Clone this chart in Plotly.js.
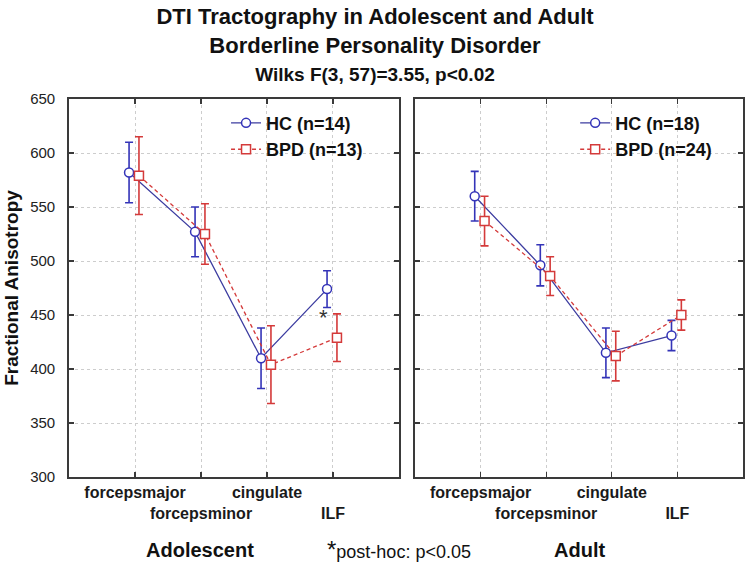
<!DOCTYPE html>
<html>
<head>
<meta charset="utf-8">
<script src="https://cdn.plot.ly/plotly-3.0.1.min.js"></script>
<style>html,body{margin:0;padding:0;background:#fff;}#chart{width:750px;height:565px;}</style>
</head>
<body>
<div id="chart"></div>
<script>
// ---- data ----
const tracts = ['forcepsmajor', 'forcepsminor', 'cingulate', 'ILF'];
const tickLabels = ['forcepsmajor', '<br>forcepsminor', 'cingulate', '<br>ILF'];
const yTicks = [300, 350, 400, 450, 500, 550, 600, 650];

const adolHC = [582, 527, 410, 474];
const adolHCerr = [28, 23, 28, 17];
const adolBPD = [579, 525, 404, 429];
const adolBPDerr = [36, 28, 36, 22];

const adultHC = [560, 496, 415, 431];
const adultHCerr = [23, 19, 23, 14];
const adultBPD = [537, 486, 412, 450];
const adultBPDerr = [23, 18, 23, 14];

const legendNames = {
  adolHC: 'HC (n=14)', adolBPD: 'BPD (n=13)',
  adultHC: 'HC (n=18)', adultBPD: 'BPD (n=24)'
};

// ---- styling ----
const FONT = 'Liberation Sans, Arial, sans-serif';
const BLUE = '#3434b8';
const BLUE_LINE = '#3c3ca0';
const RED = '#d43a3a';
const AXIS = '#3a3a3a';
const HC_OFF = -0.09, BPD_OFF = 0.06;
const idx = tracts.map((_, i) => i);

function hcTrace(y, err, name, xa, ya, leg) {
  return {
    x: idx.map(i => i + HC_OFF), y: y, name: name, type: 'scatter', mode: 'lines+markers',
    xaxis: xa, yaxis: ya, legend: leg,
    line: {color: BLUE_LINE, width: 1.3},
    marker: {symbol: 'circle', size: 9, color: '#ffffff', line: {color: BLUE, width: 1.5}},
    error_y: {type: 'data', array: err, visible: true, color: BLUE, thickness: 1.6, width: 4},
    hoverinfo: 'skip'
  };
}
function bpdTrace(y, err, name, xa, ya, leg) {
  return {
    x: idx.map(i => i + BPD_OFF), y: y, name: name, type: 'scatter', mode: 'lines+markers',
    xaxis: xa, yaxis: ya, legend: leg,
    line: {color: RED, width: 1.3, dash: '4px,3px'},
    marker: {symbol: 'square', size: 9, color: '#ffffff', line: {color: RED, width: 1.5}},
    error_y: {type: 'data', array: err, visible: true, color: RED, thickness: 1.6, width: 4},
    hoverinfo: 'skip'
  };
}

const data = [
  hcTrace(adolHC, adolHCerr, legendNames.adolHC, 'x', 'y', 'legend'),
  bpdTrace(adolBPD, adolBPDerr, legendNames.adolBPD, 'x', 'y', 'legend'),
  hcTrace(adultHC, adultHCerr, legendNames.adultHC, 'x2', 'y2', 'legend2'),
  bpdTrace(adultBPD, adultBPDerr, legendNames.adultBPD, 'x2', 'y2', 'legend2')
];

const xCommon = {
  range: [-1, 4], tickmode: 'array', tickvals: idx, ticktext: tickLabels, tickangle: 0,
  ticks: 'inside', ticklen: 5, tickwidth: 1.3, tickcolor: AXIS,
  showline: true, linecolor: AXIS, linewidth: 1.8, mirror: 'ticks',
  showgrid: true, gridcolor: '#cdcdcd', griddash: 'dot', gridwidth: 1,
  zeroline: false, fixedrange: true,
  tickfont: {family: FONT, size: 16, weight: 'bold', color: '#1a1a1a'}
};
const yCommon = {
  range: [300, 650], tickmode: 'array', tickvals: yTicks,
  ticks: 'inside', ticklen: 5, tickwidth: 1.3, tickcolor: AXIS,
  showline: true, linecolor: AXIS, linewidth: 1.8, mirror: 'ticks',
  showgrid: true, gridcolor: '#cdcdcd', griddash: 'dot', gridwidth: 1,
  zeroline: false, fixedrange: true,
  tickfont: {family: FONT, size: 15, color: '#222'}
};

const layout = {
  width: 750, height: 565,
  margin: {l: 69, r: 7, t: 99, b: 88},
  paper_bgcolor: '#ffffff', plot_bgcolor: '#ffffff',
  font: {family: FONT, color: '#111'},
  title: {
    text: 'DTI Tractography in Adolescent and Adult<br>Borderline Personality Disorder<br><span style="font-size:19px">Wilks F(3, 57)=3.55, p&lt;0.02</span>',
    font: {family: FONT, size: 22, weight: 'bold', color: '#111'},
    x: 0.5, xref: 'container', xanchor: 'center',
    y: 0.9575, yref: 'container', yanchor: 'top'
  },
  xaxis: Object.assign({}, xCommon, {domain: [0, 0.4896], anchor: 'y'}),
  xaxis2: Object.assign({}, xCommon, {domain: [0.5134, 1], anchor: 'y2'}),
  yaxis: Object.assign({}, yCommon, {
    anchor: 'x', ticklabelstandoff: 9,
    title: {text: 'Fractional Anisotropy', font: {family: FONT, size: 19, weight: 'bold', color: '#111'}, standoff: 6}
  }),
  yaxis2: Object.assign({}, yCommon, {anchor: 'x2', showticklabels: false}),
  showlegend: true,
  legend: {
    x: 0.233, y: 0.985, xanchor: 'left', yanchor: 'top', xref: 'paper', yref: 'paper',
    bgcolor: 'rgba(0,0,0,0)', borderwidth: 0, tracegroupgap: 0,
    font: {family: FONT, size: 18, weight: 'bold', color: '#111'}
  },
  legend2: {
    x: 0.751, y: 0.985, xanchor: 'left', yanchor: 'top', xref: 'paper', yref: 'paper',
    bgcolor: 'rgba(0,0,0,0)', borderwidth: 0, tracegroupgap: 0,
    font: {family: FONT, size: 18, weight: 'bold', color: '#111'}
  },
  annotations: [
    {text: '*', x: 2.85, y: 448, xref: 'x', yref: 'y', showarrow: false,
     font: {family: FONT, size: 22, color: '#333'}},
    {text: 'Adolescent', x: 0.194, y: -0.193, xref: 'paper', yref: 'paper', showarrow: false,
     xanchor: 'center', yanchor: 'middle', font: {family: FONT, size: 20, weight: 'bold', color: '#111'}},
    {text: '<span style="font-size:24px">*</span>post-hoc: p&lt;0.05', x: 0.4896, y: -0.193, xref: 'paper', yref: 'paper',
     showarrow: false, xanchor: 'center', yanchor: 'middle', font: {family: FONT, size: 18, color: '#111'}},
    {text: 'Adult', x: 0.758, y: -0.193, xref: 'paper', yref: 'paper', showarrow: false,
     xanchor: 'center', yanchor: 'middle', font: {family: FONT, size: 20, weight: 'bold', color: '#111'}}
  ]
};

Plotly.newPlot('chart', data, layout, {displayModeBar: false, staticPlot: true});
</script>
</body>
</html>
